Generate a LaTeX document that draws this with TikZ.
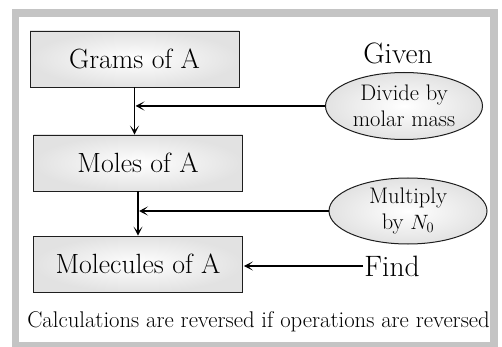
\documentclass[tikz,border=0pt]{standalone}
\usepackage{fontspec}
\usepackage{tikz}
\usetikzlibrary{shapes.geometric,arrows.meta,positioning}
\definecolor{framecol}{RGB}{196,196,196}
\definecolor{boxedge}{RGB}{30,30,30}
\definecolor{boxfill}{RGB}{226,226,226}
\tikzset{
  qtybox/.style={draw=boxedge,line width=0.9pt,shading=radial,inner color=white,outer color=boxfill,minimum width=209pt,minimum height=56pt,font=\fontsize{27.8}{32}\selectfont},
  opbubble/.style={ellipse,draw=boxedge,line width=1pt,shading=radial,inner color=white,outer color=boxfill,minimum width=157pt,minimum height=67pt,inner sep=0pt,align=center,font=\fontsize{22.5}{26}\selectfont},
  tag/.style={font=\fontsize{29.5}{32}\selectfont,inner sep=1pt},
  flow/.style={line width=1.8pt,-{Stealth[length=9pt,width=9pt,inset=5pt]}}
}
\begin{document}
\begin{tikzpicture}[x=1pt,y=-1pt]
      \useasboundingbox (0,0) rectangle (502,347);
      \draw[framecol,line width=7.5pt] (15.7,12.8) rectangle (494,345.5);
      \node[qtybox] (grams) at (134.5,59) {Grams of A};
      \node[qtybox] (moles) at (138,163) {Moles of A};
      \node[qtybox] (molec) at (138,264) {Molecules of A};
      \node[tag] (given) at (398,53) {Given};
      \node[opbubble] (divide) at (404,106) {Divide by\\molar mass};
      \node[opbubble,minimum width=158pt,minimum height=66pt] (mult) at (408,211) {Multiply\\by $N_0$};
      \node[tag] (find) at (392,266) {Find};
      \node[font=\fontsize{22.7}{26}\selectfont] (note) at (258.5,322) {Calculations are reversed if operations are reversed};
      \draw[flow] (grams.south) -- (grams.south |- moles.north);
      \draw[flow] (moles.south) -- (moles.south |- molec.north);
      \draw[flow] (divide.west) -- ([xshift=1pt]divide.west -| grams.south);
      \draw[flow] (mult.west) -- ([xshift=1pt]mult.west -| moles.south);
      \draw[flow] (find.west) -- ([xshift=1pt]find.west -| molec.east);
    \end{tikzpicture}
\end{document}
